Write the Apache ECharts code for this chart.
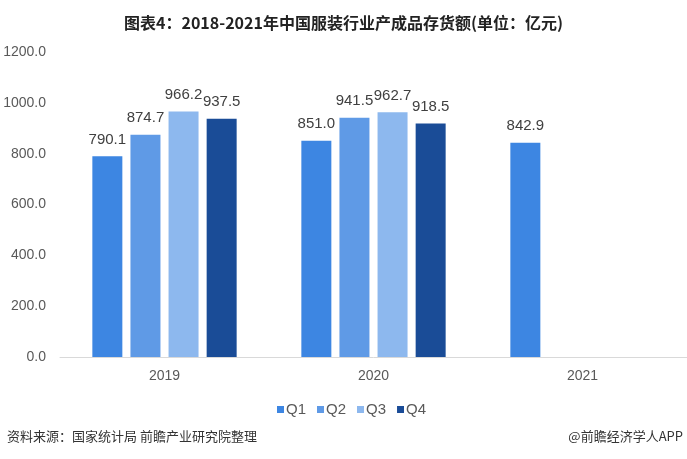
<!DOCTYPE html>
<html><head><meta charset="utf-8">
<script src="https://cdn.jsdelivr.net/npm/echarts@6/dist/echarts.min.js"></script>
<style>html,body{margin:0;padding:0;background:#fff}#c{width:687px;height:459px}</style>
</head><body><div id="c"></div>
<script>
const categories = ['2019', '2020', '2021'];
const seriesNames = ['Q1', 'Q2', 'Q3', 'Q4'];
const q1 = [790.1, 851.0, 842.9];
const q2 = [874.7, 941.5, null];
const q3 = [966.2, 962.7, null];
const q4 = [937.5, 918.5, null];
const colors = ['#3D86E2', '#5F9AE6', '#8DB8EE', '#1A4C97'];
const allData = [q1, q2, q3, q4];

const chart = echarts.init(document.getElementById('c'));
chart.setOption({
  animation: false,
  title: {
    text: '图表4：2018-2021年中国服装行业产成品存货额(单位：亿元)',
    left: 'center', top: 10,
    textStyle: { fontFamily: 'Noto Sans CJK SC', fontWeight: 'bold', fontSize: 16, color: '#222' }
  },
  legend: {
    data: seriesNames, top: 397, left: 272,
    icon: 'rect', itemWidth: 7, itemHeight: 7, itemGap: 11,
    textStyle: { fontFamily: 'Liberation Sans', fontSize: 15, color: '#595959', padding: [0, 0, 0, -3] }
  },
  grid: { left: 60, right: 0, top: 52, bottom: 102, containLabel: false },
  xAxis: {
    type: 'category', data: categories,
    axisLine: { lineStyle: { color: '#D9D9D9' } },
    axisTick: { show: false },
    axisLabel: { fontFamily: 'Liberation Sans', fontSize: 14, color: '#595959', margin: 12 }
  },
  yAxis: {
    type: 'value', min: 0, max: 1200, interval: 200,
    axisLine: { show: false }, axisTick: { show: false },
    splitLine: { show: false },
    axisLabel: { fontFamily: 'Liberation Sans', fontSize: 14, color: '#595959', margin: 14,
      formatter: v => v.toFixed(1) }
  },
  series: seriesNames.map((n, i) => ({
    name: n, type: 'bar', data: allData[i],
    barWidth: 30, barGap: '27%', barCategoryGap: '30%',
    itemStyle: { color: colors[i] },
    label: { show: true, position: 'top', distance: 9, fontFamily: 'Liberation Sans', fontSize: 15, color: '#404040',
      formatter: p => p.value == null ? '' : Number(p.value).toFixed(1) }
  })),
  graphic: [
    { type: 'text', left: 7, top: 430, style: { text: '资料来源：国家统计局 前瞻产业研究院整理', fontFamily: 'Noto Sans CJK SC', fontSize: 13, fill: '#333' } },
    { type: 'text', right: 4, top: 430, style: { text: '@前瞻经济学人APP', fontFamily: 'Noto Sans CJK SC', fontSize: 13, fill: '#333' } }
  ]
});
</script></body></html>
